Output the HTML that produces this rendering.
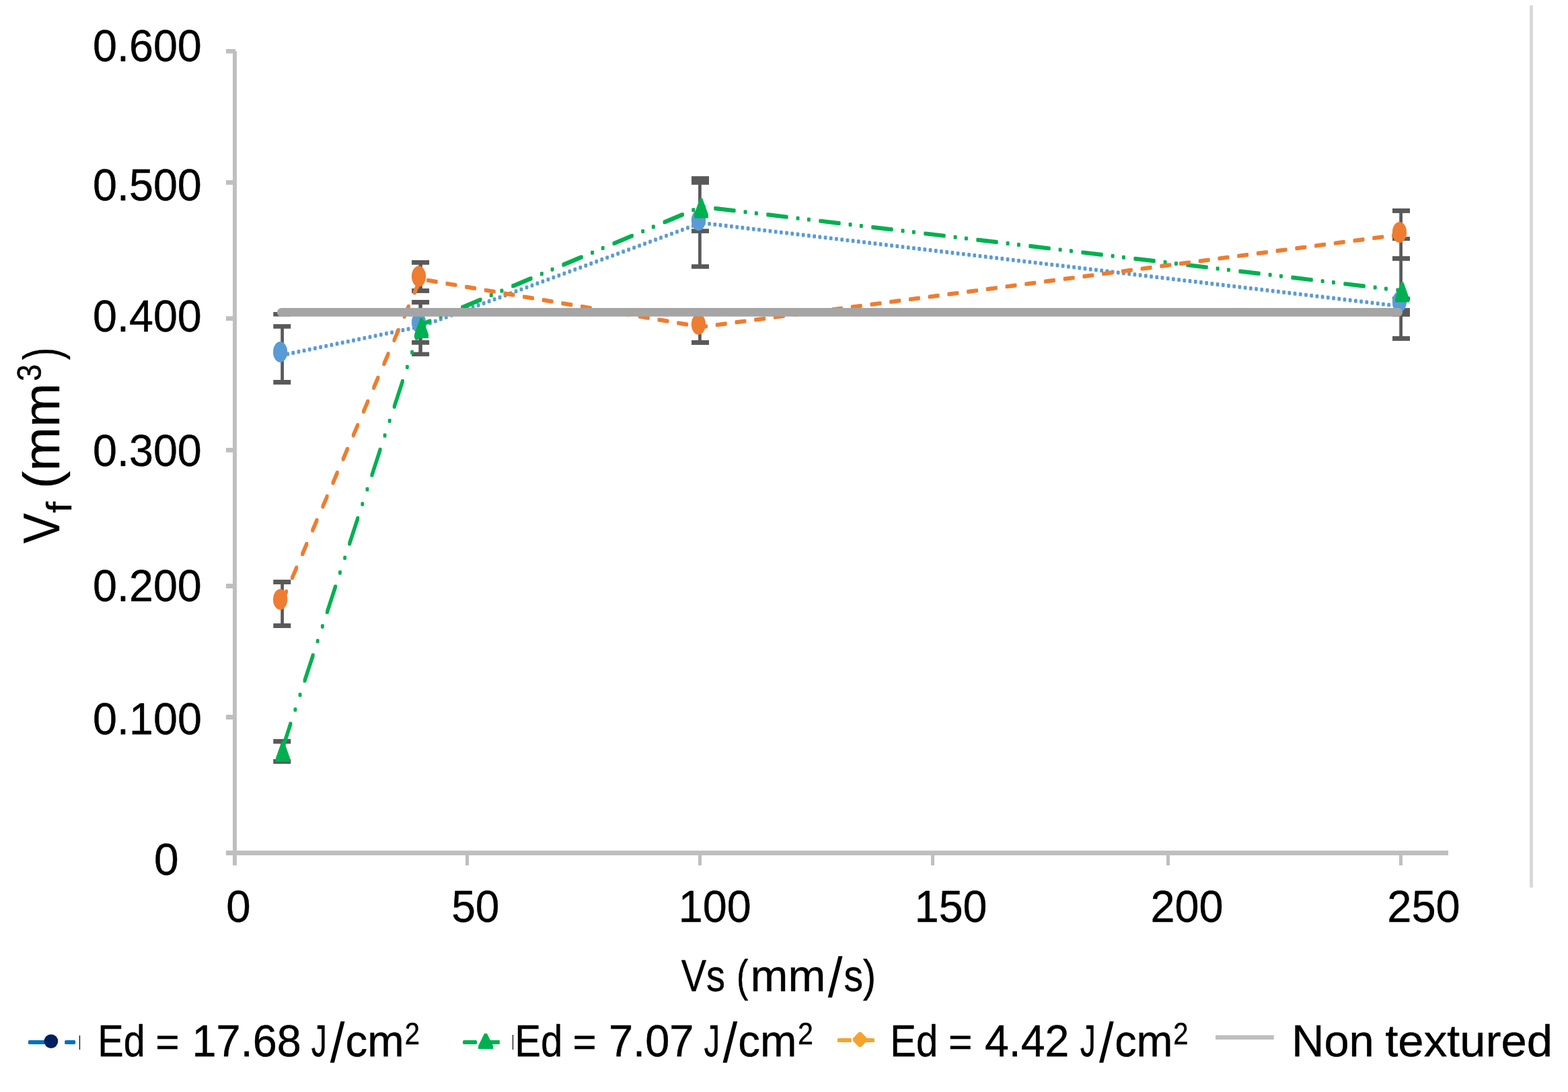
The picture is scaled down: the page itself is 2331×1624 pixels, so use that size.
<!DOCTYPE html>
<html lang="en">
<head>
<meta charset="utf-8">
<title>Vf (mm3) versus Vs (mm/s)</title>
<style>
html,body{margin:0;padding:0;background:#fff;}
body{width:2331px;height:1624px;overflow:hidden;}
svg{display:block;font-family:"Liberation Sans",sans-serif;font-kerning:none;fill:#000;}
svg text{white-space:pre;stroke:#000;stroke-width:0.45px;stroke-linejoin:round;}
</style>
</head>
<body>
<svg width="2331" height="1624" viewBox="0 0 2331 1624">
<rect x="0" y="0" width="2331" height="1624" fill="#ffffff"/>
<rect x="2274.00" y="8.00" width="5.00" height="1312.00" fill="#d9d9d9"/>
<rect x="346.00" y="76.00" width="6.00" height="1211.00" fill="#bfbfbf"/>
<rect x="336.00" y="1265.00" width="1817.00" height="7.00" fill="#bfbfbf"/>
<rect x="336.00" y="73.00" width="14.00" height="3.50" fill="#bfbfbf"/>
<rect x="336.00" y="73.00" width="11.00" height="6.50" fill="#bfbfbf"/>
<rect x="336.00" y="268.00" width="11.00" height="6.75" fill="#bfbfbf"/>
<rect x="336.00" y="470.25" width="11.00" height="6.75" fill="#bfbfbf"/>
<rect x="336.00" y="666.00" width="11.00" height="6.75" fill="#bfbfbf"/>
<rect x="336.00" y="868.00" width="11.00" height="7.00" fill="#bfbfbf"/>
<rect x="336.00" y="1063.00" width="11.00" height="7.00" fill="#bfbfbf"/>
<rect x="692.00" y="1271.00" width="5.00" height="16.00" fill="#bfbfbf"/>
<rect x="1038.00" y="1271.00" width="5.00" height="16.00" fill="#bfbfbf"/>
<rect x="1384.00" y="1271.00" width="5.00" height="16.00" fill="#bfbfbf"/>
<rect x="1734.00" y="1271.00" width="5.00" height="16.00" fill="#bfbfbf"/>
<rect x="2080.00" y="1271.00" width="5.00" height="16.00" fill="#bfbfbf"/>
<text ><tspan x="138.08" y="91.25" font-size="66.60" textLength="161.75" lengthAdjust="spacingAndGlyphs">0.600</tspan></text>
<text ><tspan x="138.08" y="298.35" font-size="66.52" textLength="161.75" lengthAdjust="spacingAndGlyphs">0.500</tspan></text>
<text ><tspan x="138.08" y="493.10" font-size="66.17" textLength="161.75" lengthAdjust="spacingAndGlyphs">0.400</tspan></text>
<text ><tspan x="138.08" y="693.10" font-size="66.17" textLength="161.75" lengthAdjust="spacingAndGlyphs">0.300</tspan></text>
<text ><tspan x="138.08" y="894.35" font-size="66.52" textLength="161.75" lengthAdjust="spacingAndGlyphs">0.200</tspan></text>
<text ><tspan x="138.08" y="1092.35" font-size="66.38" textLength="161.75" lengthAdjust="spacingAndGlyphs">0.100</tspan></text>
<text ><tspan x="229.03" y="1301.35" font-size="66.38" textLength="36.65" lengthAdjust="spacingAndGlyphs">0</tspan></text>
<text ><tspan x="336.20" y="1371.25" font-size="66.60" textLength="36.36" lengthAdjust="spacingAndGlyphs">0</tspan></text>
<text ><tspan x="671.18" y="1371.25" font-size="66.60" textLength="71.32" lengthAdjust="spacingAndGlyphs">50</tspan></text>
<text ><tspan x="1008.83" y="1371.25" font-size="66.60" textLength="107.80" lengthAdjust="spacingAndGlyphs">100</tspan></text>
<text ><tspan x="1359.83" y="1371.25" font-size="66.60" textLength="107.69" lengthAdjust="spacingAndGlyphs">150</tspan></text>
<text ><tspan x="1710.49" y="1371.25" font-size="66.60" textLength="108.04" lengthAdjust="spacingAndGlyphs">200</tspan></text>
<text ><tspan x="2062.34" y="1371.25" font-size="66.60" textLength="108.30" lengthAdjust="spacingAndGlyphs">250</tspan></text>
<text><tspan x="1012.65" y="1473.90" font-size="66.40" textLength="65.27" lengthAdjust="spacingAndGlyphs">Vs</tspan> <tspan x="1094.97" y="1473.90" font-size="66.40" textLength="17.33" lengthAdjust="spacingAndGlyphs">(</tspan><tspan x="1115.54" y="1473.90" font-size="66.40" textLength="111.78" lengthAdjust="spacingAndGlyphs">mm</tspan><tspan stroke="none" x="1230.67" y="1482.93" font-size="84.22" textLength="21.76" lengthAdjust="spacingAndGlyphs">/</tspan><tspan x="1254.41" y="1473.90" font-size="66.40" textLength="47.64" lengthAdjust="spacingAndGlyphs">s)</tspan></text>
<text transform="rotate(-90)"><tspan x="-808.04" y="88.10" font-size="75.90" textLength="44.59" lengthAdjust="spacingAndGlyphs">V</tspan><tspan x="-762.75" y="106.00" font-size="51.50" textLength="16.66" lengthAdjust="spacingAndGlyphs">f</tspan> <tspan x="-726.77" y="88.10" font-size="75.90" textLength="156.94" lengthAdjust="spacingAndGlyphs">(mm</tspan><tspan x="-566.71" y="61.40" font-size="49.40" textLength="24.93" lengthAdjust="spacingAndGlyphs">3</tspan><tspan x="-535.33" y="88.10" font-size="75.90" textLength="18.53" lengthAdjust="spacingAndGlyphs">)</tspan></text>
<rect x="417.25" y="485.00" width="4.70" height="83.00" fill="#595959"/>
<rect x="406.30" y="482.10" width="26.00" height="6.65" fill="#595959"/>
<rect x="406.30" y="565.00" width="26.00" height="6.90" fill="#595959"/>
<rect x="417.25" y="865.00" width="4.70" height="66.00" fill="#595959"/>
<rect x="406.30" y="862.10" width="26.00" height="6.90" fill="#595959"/>
<rect x="406.30" y="927.10" width="26.00" height="6.90" fill="#595959"/>
<rect x="417.25" y="1102.00" width="4.70" height="31.00" fill="#595959"/>
<rect x="406.30" y="1099.10" width="26.00" height="6.90" fill="#595959"/>
<rect x="406.30" y="1129.00" width="26.00" height="6.90" fill="#595959"/>
<rect x="406.30" y="464.00" width="26.00" height="6.60" fill="#595959"/>
<rect x="622.30" y="390.00" width="5.50" height="43.00" fill="#595959"/>
<rect x="612.10" y="386.90" width="26.00" height="6.85" fill="#595959"/>
<rect x="612.10" y="429.00" width="26.00" height="6.90" fill="#595959"/>
<rect x="622.30" y="449.00" width="5.50" height="78.00" fill="#595959"/>
<rect x="612.10" y="446.00" width="26.00" height="6.90" fill="#595959"/>
<rect x="612.10" y="506.00" width="26.00" height="6.75" fill="#595959"/>
<rect x="612.10" y="523.60" width="26.00" height="6.30" fill="#595959"/>
<rect x="1038.05" y="265.00" width="4.70" height="132.00" fill="#595959"/>
<rect x="1028.00" y="262.10" width="26.00" height="12.65" fill="#595959"/>
<rect x="1028.00" y="340.25" width="26.00" height="6.65" fill="#595959"/>
<rect x="1028.00" y="393.10" width="26.00" height="6.65" fill="#595959"/>
<rect x="1038.05" y="460.00" width="4.70" height="50.00" fill="#595959"/>
<rect x="1028.00" y="506.00" width="26.00" height="6.90" fill="#595959"/>
<rect x="2080.25" y="313.00" width="4.70" height="191.00" fill="#595959"/>
<rect x="2070.00" y="310.00" width="26.00" height="6.90" fill="#595959"/>
<rect x="2070.00" y="352.10" width="26.00" height="6.00" fill="#595959"/>
<rect x="2070.00" y="381.00" width="26.00" height="6.90" fill="#595959"/>
<rect x="2070.00" y="441.25" width="26.00" height="6.25" fill="#595959"/>
<rect x="2070.00" y="458.10" width="26.00" height="12.80" fill="#595959"/>
<rect x="2070.00" y="500.00" width="26.00" height="6.90" fill="#595959"/>
<path d="M426.64 524.88L426.69 524.87L428.59 524.87L428.59 527.97L428.54 527.98L426.64 527.98ZM434.8 523.2L434.85 523.19L436.75 523.19L436.75 526.29L436.7 526.3L434.8 526.3ZM442.96 521.51L443.01 521.5L444.91 521.5L444.91 524.6L444.86 524.61L442.96 524.61ZM451.11 519.82L451.16 519.81L453.06 519.81L453.06 522.91L453.01 522.92L451.11 522.92ZM459.27 518.14L459.32 518.13L461.22 518.13L461.22 521.23L461.17 521.24L459.27 521.24ZM467.43 516.45L467.47 516.44L469.37 516.44L469.37 519.54L469.33 519.55L467.43 519.55ZM475.58 514.76L475.63 514.75L477.53 514.75L477.53 517.85L477.48 517.86L475.58 517.86ZM483.74 513.08L483.79 513.07L485.69 513.07L485.69 516.17L485.64 516.18L483.74 516.18ZM491.89 511.39L491.94 511.38L493.84 511.38L493.84 514.48L493.79 514.49L491.89 514.49ZM500.05 509.7L500.1 509.69L502 509.69L502 512.79L501.95 512.8L500.05 512.8ZM508.21 508.02L508.26 508.01L510.16 508.01L510.16 511.11L510.11 511.12L508.21 511.12ZM516.36 506.33L516.41 506.32L518.31 506.32L518.31 509.42L518.26 509.43L516.36 509.43ZM524.52 504.64L524.57 504.63L526.47 504.63L526.47 507.73L526.42 507.74L524.52 507.74ZM532.68 502.96L532.73 502.95L534.63 502.95L534.63 506.05L534.58 506.06L532.68 506.06ZM540.83 501.27L540.88 501.26L542.78 501.26L542.78 504.36L542.73 504.37L540.83 504.37ZM548.99 499.58L549.04 499.57L550.94 499.57L550.94 502.67L550.89 502.68L548.99 502.68ZM557.14 497.9L557.19 497.89L559.09 497.89L559.09 500.99L559.04 501L557.14 501ZM565.3 496.21L565.35 496.2L567.25 496.2L567.25 499.3L567.2 499.31L565.3 499.31ZM573.46 494.52L573.51 494.51L575.41 494.51L575.41 497.61L575.36 497.62L573.46 497.62ZM581.61 492.84L581.66 492.83L583.56 492.83L583.56 495.93L583.51 495.94L581.61 495.94ZM589.77 491.15L589.82 491.14L591.72 491.14L591.72 494.24L591.67 494.25L589.77 494.25ZM597.93 489.46L597.98 489.45L599.88 489.45L599.88 492.55L599.83 492.56L597.93 492.56ZM606.08 487.78L606.13 487.77L608.03 487.77L608.03 490.87L607.98 490.88L606.08 490.88ZM614.24 486.09L614.29 486.08L616.19 486.08L616.19 489.18L616.14 489.19L614.24 489.19ZM622.4 484.4L622.44 484.39L624.34 484.39L624.34 487.49L624.3 487.5L622.4 487.5ZM630.36 481.97L630.4 481.95L632.3 481.95L632.3 485.05L632.26 485.07L630.36 485.07ZM638.34 479.02L638.39 479L640.29 479L640.29 482.1L640.24 482.12L638.34 482.12ZM646.32 476.07L646.37 476.05L648.27 476.05L648.27 479.15L648.22 479.17L646.32 479.17ZM654.3 473.11L654.35 473.09L656.25 473.09L656.25 476.19L656.2 476.21L654.3 476.21ZM662.28 470.16L662.33 470.14L664.23 470.14L664.23 473.24L664.18 473.26L662.28 473.26ZM670.26 467.21L670.31 467.19L672.21 467.19L672.21 470.29L672.16 470.31L670.26 470.31ZM678.24 464.25L678.29 464.23L680.19 464.23L680.19 467.33L680.14 467.35L678.24 467.35ZM686.22 461.3L686.27 461.28L688.17 461.28L688.17 464.38L688.12 464.4L686.22 464.4ZM694.2 458.35L694.25 458.33L696.15 458.33L696.15 461.43L696.1 461.45L694.2 461.45ZM702.18 455.39L702.23 455.38L704.13 455.38L704.13 458.48L704.08 458.49L702.18 458.49ZM710.16 452.44L710.21 452.42L712.11 452.42L712.11 455.52L712.06 455.54L710.16 455.54ZM718.14 449.49L718.19 449.47L720.09 449.47L720.09 452.57L720.04 452.59L718.14 452.59ZM726.12 446.53L726.17 446.52L728.07 446.52L728.07 449.62L728.02 449.63L726.12 449.63ZM734.11 443.58L734.15 443.56L736.05 443.56L736.05 446.66L736.01 446.68L734.11 446.68ZM742.09 440.63L742.13 440.61L744.03 440.61L744.03 443.71L743.99 443.73L742.09 443.73ZM750.07 437.67L750.11 437.66L752.01 437.66L752.01 440.76L751.97 440.77L750.07 440.77ZM758.05 434.72L758.1 434.7L760 434.7L760 437.8L759.95 437.82L758.05 437.82ZM766.03 431.77L766.08 431.75L767.98 431.75L767.98 434.85L767.93 434.87L766.03 434.87ZM774.01 428.81L774.06 428.8L775.96 428.8L775.96 431.9L775.91 431.91L774.01 431.91ZM781.99 425.86L782.04 425.84L783.94 425.84L783.94 428.94L783.89 428.96L781.99 428.96ZM789.97 422.91L790.02 422.89L791.92 422.89L791.92 425.99L791.87 426.01L789.97 426.01ZM797.95 419.95L798 419.94L799.9 419.94L799.9 423.04L799.85 423.05L797.95 423.05ZM805.93 417L805.98 416.98L807.88 416.98L807.88 420.08L807.83 420.1L805.93 420.1ZM813.91 414.05L813.96 414.03L815.86 414.03L815.86 417.13L815.81 417.15L813.91 417.15ZM821.89 411.1L821.94 411.08L823.84 411.08L823.84 414.18L823.79 414.2L821.89 414.2ZM829.87 408.14L829.92 408.12L831.82 408.12L831.82 411.22L831.77 411.24L829.87 411.24ZM837.85 405.19L837.9 405.17L839.8 405.17L839.8 408.27L839.75 408.29L837.85 408.29ZM845.84 402.24L845.88 402.22L847.78 402.22L847.78 405.32L847.74 405.34L845.84 405.34ZM853.82 399.28L853.86 399.26L855.76 399.26L855.76 402.36L855.72 402.38L853.82 402.38ZM861.8 396.33L861.84 396.31L863.74 396.31L863.74 399.41L863.7 399.43L861.8 399.43ZM869.78 393.38L869.83 393.36L871.73 393.36L871.73 396.46L871.68 396.48L869.78 396.48ZM877.76 390.42L877.81 390.4L879.71 390.4L879.71 393.5L879.66 393.52L877.76 393.52ZM885.74 387.47L885.79 387.45L887.69 387.45L887.69 390.55L887.64 390.57L885.74 390.57ZM893.72 384.52L893.77 384.5L895.67 384.5L895.67 387.6L895.62 387.62L893.72 387.62ZM901.7 381.56L901.75 381.55L903.65 381.55L903.65 384.65L903.6 384.66L901.7 384.66ZM909.68 378.61L909.73 378.59L911.63 378.59L911.63 381.69L911.58 381.71L909.68 381.71ZM917.66 375.66L917.71 375.64L919.61 375.64L919.61 378.74L919.56 378.76L917.66 378.76ZM925.64 372.7L925.69 372.69L927.59 372.69L927.59 375.79L927.54 375.8L925.64 375.8ZM933.62 369.75L933.67 369.73L935.57 369.73L935.57 372.83L935.52 372.85L933.62 372.85ZM941.6 366.8L941.65 366.78L943.55 366.78L943.55 369.88L943.5 369.9L941.6 369.9ZM949.58 363.84L949.63 363.83L951.53 363.83L951.53 366.93L951.48 366.94L949.58 366.94ZM957.56 360.89L957.61 360.87L959.51 360.87L959.51 363.97L959.46 363.99L957.56 363.99ZM965.55 357.94L965.59 357.92L967.49 357.92L967.49 361.02L967.45 361.04L965.55 361.04ZM973.53 354.98L973.57 354.97L975.47 354.97L975.47 358.07L975.43 358.08L973.53 358.08ZM981.51 352.03L981.56 352.01L983.46 352.01L983.46 355.11L983.41 355.13L981.51 355.13ZM989.49 349.08L989.54 349.06L991.44 349.06L991.44 352.16L991.39 352.18L989.49 352.18ZM997.47 346.12L997.52 346.11L999.42 346.11L999.42 349.21L999.37 349.22L997.47 349.22ZM1005.45 343.17L1005.5 343.15L1007.4 343.15L1007.4 346.25L1007.35 346.27L1005.45 346.27ZM1013.43 340.22L1013.48 340.2L1015.38 340.2L1015.38 343.3L1015.33 343.32L1013.43 343.32ZM1021.41 337.27L1021.46 337.25L1023.36 337.25L1023.36 340.35L1023.31 340.37L1021.41 340.37ZM1029.39 334.31L1029.44 334.29L1031.34 334.29L1031.34 337.39L1031.29 337.41L1029.39 337.41ZM1037.37 331.36L1037.42 331.34L1039.32 331.34L1039.32 334.44L1039.27 334.46L1037.37 334.46ZM1045.39 330.32L1047.29 330.32L1047.34 330.33L1047.34 333.43L1045.44 333.43L1045.39 333.42ZM1053.6 331.3L1055.5 331.3L1055.55 331.31L1055.55 334.41L1053.65 334.41L1053.6 334.4ZM1061.81 332.28L1063.76 332.28L1063.76 335.38L1061.81 335.38ZM1070.02 333.26L1071.97 333.26L1071.97 336.36L1070.02 336.36ZM1078.24 334.24L1080.19 334.24L1080.19 337.34L1078.24 337.34ZM1086.45 335.22L1088.4 335.22L1088.4 338.32L1086.45 338.32ZM1094.66 336.2L1096.61 336.2L1096.61 339.3L1094.66 339.3ZM1102.87 337.18L1104.82 337.18L1104.82 340.28L1102.87 340.28ZM1111.08 338.16L1113.03 338.16L1113.03 341.26L1111.08 341.26ZM1119.3 339.14L1121.24 339.14L1121.24 342.24L1119.3 342.24ZM1127.51 340.11L1129.41 340.11L1129.46 340.12L1129.46 343.22L1127.56 343.22L1127.51 343.21ZM1135.72 341.09L1137.62 341.09L1137.67 341.1L1137.67 344.2L1135.77 344.2L1135.72 344.19ZM1143.93 342.07L1145.83 342.07L1145.88 342.08L1145.88 345.18L1143.98 345.18L1143.93 345.17ZM1152.14 343.05L1154.04 343.05L1154.09 343.06L1154.09 346.16L1152.19 346.16L1152.14 346.15ZM1160.35 344.03L1162.25 344.03L1162.3 344.04L1162.3 347.14L1160.4 347.14L1160.35 347.13ZM1168.57 345.01L1170.47 345.01L1170.52 345.02L1170.52 348.12L1168.62 348.12L1168.57 348.11ZM1176.78 345.99L1178.68 345.99L1178.73 346L1178.73 349.1L1176.83 349.1L1176.78 349.09ZM1184.99 346.97L1186.89 346.97L1186.94 346.98L1186.94 350.08L1185.04 350.08L1184.99 350.07ZM1193.2 347.95L1195.1 347.95L1195.15 347.96L1195.15 351.06L1193.25 351.06L1193.2 351.05ZM1201.41 348.93L1203.31 348.93L1203.36 348.94L1203.36 352.04L1201.46 352.04L1201.41 352.03ZM1209.63 349.91L1211.53 349.91L1211.58 349.92L1211.58 353.02L1209.68 353.02L1209.63 353.01ZM1217.84 350.89L1219.74 350.89L1219.79 350.9L1219.79 354L1217.89 354L1217.84 353.99ZM1226.05 351.87L1228 351.87L1228 354.97L1226.05 354.97ZM1234.26 352.85L1236.21 352.85L1236.21 355.95L1234.26 355.95ZM1242.47 353.83L1244.42 353.83L1244.42 356.93L1242.47 356.93ZM1250.69 354.81L1252.63 354.81L1252.63 357.91L1250.69 357.91ZM1258.9 355.79L1260.85 355.79L1260.85 358.89L1258.9 358.89ZM1267.11 356.77L1269.06 356.77L1269.06 359.87L1267.11 359.87ZM1275.32 357.75L1277.27 357.75L1277.27 360.85L1275.32 360.85ZM1283.53 358.73L1285.48 358.73L1285.48 361.83L1283.53 361.83ZM1291.74 359.7L1293.64 359.7L1293.69 359.71L1293.69 362.81L1291.79 362.81L1291.74 362.8ZM1299.96 360.68L1301.86 360.68L1301.91 360.69L1301.91 363.79L1300.01 363.79L1299.96 363.78ZM1308.17 361.66L1310.07 361.66L1310.12 361.67L1310.12 364.77L1308.22 364.77L1308.17 364.76ZM1316.38 362.64L1318.28 362.64L1318.33 362.65L1318.33 365.75L1316.43 365.75L1316.38 365.74ZM1324.59 363.62L1326.49 363.62L1326.54 363.63L1326.54 366.73L1324.64 366.73L1324.59 366.72ZM1332.8 364.6L1334.7 364.6L1334.75 364.61L1334.75 367.71L1332.85 367.71L1332.8 367.7ZM1341.02 365.58L1342.92 365.58L1342.97 365.59L1342.97 368.69L1341.07 368.69L1341.02 368.68ZM1349.23 366.56L1351.13 366.56L1351.18 366.57L1351.18 369.67L1349.28 369.67L1349.23 369.66ZM1357.44 367.54L1359.34 367.54L1359.39 367.55L1359.39 370.65L1357.49 370.65L1357.44 370.64ZM1365.65 368.52L1367.55 368.52L1367.6 368.53L1367.6 371.63L1365.7 371.63L1365.65 371.62ZM1373.86 369.5L1375.76 369.5L1375.81 369.51L1375.81 372.61L1373.91 372.61L1373.86 372.6ZM1382.08 370.48L1383.98 370.48L1384.02 370.49L1384.02 373.59L1382.12 373.59L1382.08 373.58ZM1390.29 371.46L1392.24 371.46L1392.24 374.56L1390.29 374.56ZM1398.5 372.44L1400.45 372.44L1400.45 375.54L1398.5 375.54ZM1406.71 373.42L1408.66 373.42L1408.66 376.52L1406.71 376.52ZM1414.92 374.4L1416.87 374.4L1416.87 377.5L1414.92 377.5ZM1423.13 375.38L1425.08 375.38L1425.08 378.48L1423.13 378.48ZM1431.35 376.36L1433.3 376.36L1433.3 379.46L1431.35 379.46ZM1439.56 377.34L1441.51 377.34L1441.51 380.44L1439.56 380.44ZM1447.77 378.32L1449.72 378.32L1449.72 381.42L1447.77 381.42ZM1455.98 379.29L1457.88 379.29L1457.93 379.3L1457.93 382.4L1456.03 382.4L1455.98 382.39ZM1464.19 380.27L1466.09 380.27L1466.14 380.28L1466.14 383.38L1464.24 383.38L1464.19 383.37ZM1472.41 381.25L1474.31 381.25L1474.36 381.26L1474.36 384.36L1472.46 384.36L1472.41 384.35ZM1480.62 382.23L1482.52 382.23L1482.57 382.24L1482.57 385.34L1480.67 385.34L1480.62 385.33ZM1488.83 383.21L1490.73 383.21L1490.78 383.22L1490.78 386.32L1488.88 386.32L1488.83 386.31ZM1497.04 384.19L1498.94 384.19L1498.99 384.2L1498.99 387.3L1497.09 387.3L1497.04 387.29ZM1505.25 385.17L1507.15 385.17L1507.2 385.18L1507.2 388.28L1505.3 388.28L1505.25 388.27ZM1513.47 386.15L1515.37 386.15L1515.41 386.16L1515.41 389.26L1513.51 389.26L1513.47 389.25ZM1521.68 387.13L1523.58 387.13L1523.63 387.14L1523.63 390.24L1521.73 390.24L1521.68 390.23ZM1529.89 388.11L1531.79 388.11L1531.84 388.12L1531.84 391.22L1529.94 391.22L1529.89 391.21ZM1538.1 389.09L1540 389.09L1540.05 389.1L1540.05 392.2L1538.15 392.2L1538.1 392.19ZM1546.31 390.07L1548.21 390.07L1548.26 390.08L1548.26 393.18L1546.36 393.18L1546.31 393.17ZM1554.52 391.05L1556.47 391.05L1556.47 394.15L1554.52 394.15ZM1562.74 392.03L1564.69 392.03L1564.69 395.13L1562.74 395.13ZM1570.95 393.01L1572.9 393.01L1572.9 396.11L1570.95 396.11ZM1579.16 393.99L1581.11 393.99L1581.11 397.09L1579.16 397.09ZM1587.37 394.97L1589.32 394.97L1589.32 398.07L1587.37 398.07ZM1595.58 395.95L1597.53 395.95L1597.53 399.05L1595.58 399.05ZM1603.8 396.93L1605.75 396.93L1605.75 400.03L1603.8 400.03ZM1612.01 397.91L1613.96 397.91L1613.96 401.01L1612.01 401.01ZM1620.22 398.88L1622.12 398.88L1622.17 398.89L1622.17 401.99L1620.27 401.99L1620.22 401.98ZM1628.43 399.86L1630.33 399.86L1630.38 399.87L1630.38 402.97L1628.48 402.97L1628.43 402.96ZM1636.64 400.84L1638.54 400.84L1638.59 400.85L1638.59 403.95L1636.69 403.95L1636.64 403.94ZM1644.86 401.82L1646.76 401.82L1646.8 401.83L1646.8 404.93L1644.9 404.93L1644.86 404.92ZM1653.07 402.8L1654.97 402.8L1655.02 402.81L1655.02 405.91L1653.12 405.91L1653.07 405.9ZM1661.28 403.78L1663.18 403.78L1663.23 403.79L1663.23 406.89L1661.33 406.89L1661.28 406.88ZM1669.49 404.76L1671.39 404.76L1671.44 404.77L1671.44 407.87L1669.54 407.87L1669.49 407.86ZM1677.7 405.74L1679.6 405.74L1679.65 405.75L1679.65 408.85L1677.75 408.85L1677.7 408.84ZM1685.91 406.72L1687.81 406.72L1687.86 406.73L1687.86 409.83L1685.96 409.83L1685.91 409.82ZM1694.13 407.7L1696.03 407.7L1696.08 407.71L1696.08 410.81L1694.18 410.81L1694.13 410.8ZM1702.34 408.68L1704.24 408.68L1704.29 408.69L1704.29 411.79L1702.39 411.79L1702.34 411.78ZM1710.55 409.66L1712.45 409.66L1712.5 409.67L1712.5 412.77L1710.6 412.77L1710.55 412.76ZM1718.76 410.64L1720.71 410.64L1720.71 413.74L1718.76 413.74ZM1726.97 411.62L1728.92 411.62L1728.92 414.72L1726.97 414.72ZM1735.19 412.6L1737.14 412.6L1737.14 415.7L1735.19 415.7ZM1743.4 413.58L1745.35 413.58L1745.35 416.68L1743.4 416.68ZM1751.61 414.56L1753.56 414.56L1753.56 417.66L1751.61 417.66ZM1759.82 415.54L1761.77 415.54L1761.77 418.64L1759.82 418.64ZM1768.03 416.52L1769.98 416.52L1769.98 419.62L1768.03 419.62ZM1776.25 417.5L1778.19 417.5L1778.19 420.6L1776.25 420.6ZM1784.46 418.47L1786.36 418.47L1786.41 418.48L1786.41 421.58L1784.51 421.58L1784.46 421.57ZM1792.67 419.45L1794.57 419.45L1794.62 419.46L1794.62 422.56L1792.72 422.56L1792.67 422.55ZM1800.88 420.43L1802.78 420.43L1802.83 420.44L1802.83 423.54L1800.93 423.54L1800.88 423.53ZM1809.09 421.41L1810.99 421.41L1811.04 421.42L1811.04 424.52L1809.14 424.52L1809.09 424.51ZM1817.3 422.39L1819.2 422.39L1819.25 422.4L1819.25 425.5L1817.35 425.5L1817.3 425.49ZM1825.52 423.37L1827.42 423.37L1827.47 423.38L1827.47 426.48L1825.57 426.48L1825.52 426.47ZM1833.73 424.35L1835.63 424.35L1835.68 424.36L1835.68 427.46L1833.78 427.46L1833.73 427.45ZM1841.94 425.33L1843.84 425.33L1843.89 425.34L1843.89 428.44L1841.99 428.44L1841.94 428.43ZM1850.15 426.31L1852.05 426.31L1852.1 426.32L1852.1 429.42L1850.2 429.42L1850.15 429.41ZM1858.36 427.29L1860.26 427.29L1860.31 427.3L1860.31 430.4L1858.41 430.4L1858.36 430.39ZM1866.58 428.27L1868.48 428.27L1868.53 428.28L1868.53 431.38L1866.63 431.38L1866.58 431.37ZM1874.79 429.25L1876.69 429.25L1876.74 429.26L1876.74 432.36L1874.84 432.36L1874.79 432.35ZM1883 430.23L1884.95 430.23L1884.95 433.33L1883 433.33ZM1891.21 431.21L1893.16 431.21L1893.16 434.31L1891.21 434.31ZM1899.42 432.19L1901.37 432.19L1901.37 435.29L1899.42 435.29ZM1907.64 433.17L1909.58 433.17L1909.58 436.27L1907.64 436.27ZM1915.85 434.15L1917.8 434.15L1917.8 437.25L1915.85 437.25ZM1924.06 435.13L1926.01 435.13L1926.01 438.23L1924.06 438.23ZM1932.27 436.11L1934.22 436.11L1934.22 439.21L1932.27 439.21ZM1940.48 437.09L1942.43 437.09L1942.43 440.19L1940.48 440.19ZM1948.69 438.06L1950.59 438.06L1950.64 438.07L1950.64 441.17L1948.74 441.17L1948.69 441.16ZM1956.91 439.04L1958.81 439.04L1958.86 439.05L1958.86 442.15L1956.96 442.15L1956.91 442.14ZM1965.12 440.02L1967.02 440.02L1967.07 440.03L1967.07 443.13L1965.17 443.13L1965.12 443.12ZM1973.33 441L1975.23 441L1975.28 441.01L1975.28 444.11L1973.38 444.11L1973.33 444.1ZM1981.54 441.98L1983.44 441.98L1983.49 441.99L1983.49 445.09L1981.59 445.09L1981.54 445.08ZM1989.75 442.96L1991.65 442.96L1991.7 442.97L1991.7 446.07L1989.8 446.07L1989.75 446.06ZM1997.97 443.94L1999.87 443.94L1999.92 443.95L1999.92 447.05L1998.02 447.05L1997.97 447.04ZM2006.18 444.92L2008.08 444.92L2008.13 444.93L2008.13 448.03L2006.23 448.03L2006.18 448.02ZM2014.39 445.9L2016.29 445.9L2016.34 445.91L2016.34 449.01L2014.44 449.01L2014.39 449ZM2022.6 446.88L2024.5 446.88L2024.55 446.89L2024.55 449.99L2022.65 449.99L2022.6 449.98ZM2030.81 447.86L2032.71 447.86L2032.76 447.87L2032.76 450.97L2030.86 450.97L2030.81 450.96ZM2039.03 448.84L2040.93 448.84L2040.98 448.85L2040.98 451.95L2039.08 451.95L2039.03 451.94ZM2047.24 449.82L2049.19 449.82L2049.19 452.92L2047.24 452.92ZM2055.45 450.8L2057.4 450.8L2057.4 453.9L2055.45 453.9ZM2063.66 451.78L2065.61 451.78L2065.61 454.88L2063.66 454.88ZM2071.87 452.76L2073.82 452.76L2073.82 455.86L2071.87 455.86ZM2080.08 453.74L2082.03 453.74L2082.03 456.84L2080.08 456.84Z" fill="#5b9bd5" stroke="#5b9bd5" stroke-width="2.8" stroke-linejoin="round"/>
<ellipse cx="416.60" cy="523.40" rx="10.60" ry="15.50" fill="#5b9bd5"/>
<ellipse cx="622.50" cy="479.50" rx="10.60" ry="15.50" fill="#5b9bd5"/>
<ellipse cx="1038.40" cy="327.60" rx="10.60" ry="15.50" fill="#5b9bd5"/>
<ellipse cx="2080.50" cy="448.60" rx="10.60" ry="15.50" fill="#5b9bd5"/>
<path d="M418.71 1112.64L431.08 1074.79L432.98 1074.79L432.98 1077.89L420.61 1115.74L418.71 1115.74ZM437.89 1053.94L438.02 1053.55L439.92 1053.55L439.92 1056.65L439.79 1057.04L437.89 1057.04ZM445.05 1032.05L445.17 1031.66L447.07 1031.66L447.07 1034.76L446.95 1035.15L445.05 1035.15ZM452.01 1010.75L464.38 972.89L466.28 972.89L466.28 975.99L453.91 1013.85L452.01 1013.85ZM471.19 952.05L471.31 951.66L473.21 951.66L473.21 954.76L473.09 955.15L471.19 955.15ZM478.34 930.16L478.47 929.77L480.37 929.77L480.37 932.87L480.24 933.26L478.34 933.26ZM485.3 908.85L497.67 871L499.57 871L499.57 874.1L487.2 911.95L485.3 911.95ZM504.48 850.15L504.61 849.76L506.51 849.76L506.51 852.86L506.38 853.25L504.48 853.25ZM511.63 828.26L511.76 827.87L513.66 827.87L513.66 830.97L513.53 831.36L511.63 831.36ZM518.59 806.96L530.96 769.11L532.86 769.11L532.86 772.21L520.49 810.06L518.59 810.06ZM537.77 748.26L537.9 747.87L539.8 747.87L539.8 750.97L539.67 751.36L537.77 751.36ZM544.92 726.37L545.05 725.98L546.95 725.98L546.95 729.08L546.82 729.47L544.92 729.47ZM551.89 705.07L564.25 667.22L566.15 667.22L566.15 670.32L553.79 708.17L551.89 708.17ZM571.06 646.37L571.19 645.98L573.09 645.98L573.09 649.08L572.96 649.47L571.06 649.47ZM578.22 624.48L578.34 624.09L580.24 624.09L580.24 627.19L580.12 627.58L578.22 627.58ZM585.18 603.17L597.55 565.32L599.45 565.32L599.45 568.42L587.08 606.27L585.18 606.27ZM604.36 544.48L604.48 544.08L606.38 544.08L606.38 547.18L606.26 547.58L604.36 547.58ZM611.51 522.58L611.64 522.19L613.54 522.19L613.54 525.29L613.41 525.68L611.51 525.68ZM618.47 501.28L624.95 481.45L626.85 481.45L626.85 484.55L620.37 504.38L618.47 504.38ZM624.95 481.45L638.05 475.93L639.95 475.93L639.95 479.03L626.85 484.55L624.95 484.55ZM654.03 469.19L654.32 469.07L656.22 469.07L656.22 472.17L655.93 472.29L654.03 472.29ZM669.72 462.57L670.01 462.45L671.91 462.45L671.91 465.55L671.62 465.67L669.72 465.67ZM686.5 455.5L713.18 444.25L715.08 444.25L715.08 447.35L688.4 458.6L686.5 458.6ZM729.15 437.52L729.44 437.4L731.34 437.4L731.34 440.5L731.05 440.62L729.15 440.62ZM744.85 430.9L745.13 430.78L747.03 430.78L747.03 433.88L746.75 434L744.85 434ZM761.62 423.83L788.3 412.58L790.2 412.58L790.2 415.68L763.52 426.93L761.62 426.93ZM804.28 405.84L804.57 405.72L806.47 405.72L806.47 408.82L806.18 408.94L804.28 408.94ZM819.97 399.23L820.26 399.11L822.16 399.11L822.16 402.21L821.87 402.33L819.97 402.33ZM836.75 392.15L863.43 380.91L865.33 380.91L865.33 384.01L838.65 395.25L836.75 395.25ZM879.41 374.17L879.69 374.05L881.59 374.05L881.59 377.15L881.31 377.27L879.41 377.27ZM895.1 367.55L895.39 367.43L897.29 367.43L897.29 370.53L897 370.65L895.1 370.65ZM911.87 360.48L938.55 349.23L940.45 349.23L940.45 352.33L913.77 363.58L911.87 363.58ZM954.53 342.49L954.82 342.37L956.72 342.37L956.72 345.47L956.43 345.59L954.53 345.59ZM970.22 335.88L970.51 335.76L972.41 335.76L972.41 338.86L972.12 338.98L970.22 338.98ZM987 328.81L1013.68 317.56L1015.58 317.56L1015.58 320.66L988.9 331.91L987 331.91ZM1029.66 310.82L1029.95 310.7L1031.85 310.7L1031.85 313.8L1031.56 313.92L1029.66 313.92ZM1045.23 306.3L1047.13 306.3L1047.43 306.34L1047.43 309.44L1045.53 309.44L1045.23 309.4ZM1062.65 308.39L1064.55 308.39L1092.25 311.71L1092.25 314.81L1090.35 314.81L1062.65 311.49ZM1106.95 313.7L1108.85 313.7L1109.15 313.74L1109.15 316.84L1107.25 316.84L1106.95 316.8ZM1123.24 315.65L1125.14 315.65L1125.44 315.69L1125.44 318.79L1123.54 318.79L1123.24 318.75ZM1140.66 317.74L1142.56 317.74L1170.26 321.06L1170.26 324.16L1168.36 324.16L1140.66 320.84ZM1184.96 323.05L1186.86 323.05L1187.16 323.09L1187.16 326.19L1185.26 326.19L1184.96 326.15ZM1201.25 325L1203.15 325L1203.45 325.04L1203.45 328.14L1201.55 328.14L1201.25 328.1ZM1218.67 327.09L1220.57 327.09L1248.27 330.41L1248.27 333.51L1246.37 333.51L1218.67 330.19ZM1262.97 332.4L1264.87 332.4L1265.17 332.44L1265.17 335.54L1263.27 335.54L1262.97 335.5ZM1279.26 334.35L1281.16 334.35L1281.46 334.39L1281.46 337.49L1279.56 337.49L1279.26 337.45ZM1296.68 336.44L1298.58 336.44L1326.28 339.76L1326.28 342.86L1324.38 342.86L1296.68 339.54ZM1340.98 341.75L1342.88 341.75L1343.18 341.79L1343.18 344.89L1341.28 344.89L1340.98 344.85ZM1357.27 343.7L1359.17 343.7L1359.47 343.74L1359.47 346.84L1357.57 346.84L1357.27 346.8ZM1374.69 345.79L1376.59 345.79L1404.3 349.11L1404.3 352.21L1402.4 352.21L1374.69 348.89ZM1418.99 351.1L1420.89 351.1L1421.19 351.14L1421.19 354.24L1419.29 354.24L1418.99 354.2ZM1435.28 353.05L1437.18 353.05L1437.48 353.09L1437.48 356.19L1435.58 356.19L1435.28 356.15ZM1452.7 355.14L1454.6 355.14L1482.31 358.46L1482.31 361.56L1480.41 361.56L1452.7 358.24ZM1497 360.45L1498.9 360.45L1499.2 360.49L1499.2 363.59L1497.3 363.59L1497 363.55ZM1513.29 362.4L1515.19 362.4L1515.49 362.44L1515.49 365.54L1513.59 365.54L1513.29 365.5ZM1530.71 364.49L1532.61 364.49L1560.32 367.81L1560.32 370.91L1558.42 370.91L1530.71 367.59ZM1575.01 369.8L1576.91 369.8L1577.21 369.84L1577.21 372.94L1575.31 372.94L1575.01 372.9ZM1591.3 371.75L1593.2 371.75L1593.5 371.79L1593.5 374.89L1591.6 374.89L1591.3 374.85ZM1608.72 373.84L1610.62 373.84L1638.33 377.16L1638.33 380.26L1636.43 380.26L1608.72 376.94ZM1653.02 379.15L1654.92 379.15L1655.22 379.18L1655.22 382.28L1653.32 382.28L1653.02 382.25ZM1669.31 381.1L1671.21 381.1L1671.51 381.14L1671.51 384.24L1669.61 384.24L1669.31 384.2ZM1686.73 383.19L1688.63 383.19L1716.34 386.51L1716.34 389.61L1714.44 389.61L1686.73 386.29ZM1731.03 388.5L1732.93 388.5L1733.23 388.53L1733.23 391.63L1731.33 391.63L1731.03 391.6ZM1747.32 390.45L1749.22 390.45L1749.52 390.49L1749.52 393.59L1747.62 393.59L1747.32 393.55ZM1764.74 392.54L1766.64 392.54L1794.35 395.86L1794.35 398.96L1792.45 398.96L1764.74 395.64ZM1809.04 397.85L1810.94 397.85L1811.24 397.88L1811.24 400.98L1809.34 400.98L1809.04 400.95ZM1825.33 399.8L1827.23 399.8L1827.53 399.84L1827.53 402.94L1825.63 402.94L1825.33 402.9ZM1842.75 401.89L1844.65 401.89L1872.36 405.21L1872.36 408.31L1870.46 408.31L1842.75 404.99ZM1887.05 407.2L1888.95 407.2L1889.25 407.23L1889.25 410.33L1887.35 410.33L1887.05 410.3ZM1903.34 409.15L1905.24 409.15L1905.54 409.19L1905.54 412.29L1903.64 412.29L1903.34 412.25ZM1920.76 411.24L1922.66 411.24L1950.37 414.56L1950.37 417.66L1948.47 417.66L1920.76 414.34ZM1965.06 416.55L1966.96 416.55L1967.26 416.58L1967.26 419.68L1965.36 419.68L1965.06 419.65ZM1981.35 418.5L1983.25 418.5L1983.55 418.54L1983.55 421.64L1981.65 421.64L1981.35 421.6ZM1998.77 420.59L2000.67 420.59L2028.38 423.91L2028.38 427.01L2026.48 427.01L1998.77 423.69ZM2043.07 425.9L2044.97 425.9L2045.27 425.93L2045.27 429.03L2043.37 429.03L2043.07 429ZM2059.36 427.85L2061.26 427.85L2061.56 427.89L2061.56 430.99L2059.66 430.99L2059.36 430.95ZM2076.78 429.94L2078.68 429.94L2085.45 430.75L2085.45 433.85L2083.55 433.85L2076.78 433.04Z" fill="#00b050" stroke="#00b050" stroke-width="2.8" stroke-linejoin="round"/>
<path d="M410 1127.15L418.6 1103L422.4 1103L431 1127.15L431 1132.75L410 1132.75Z" fill="#00b050"/>
<path d="M616 497.3L624.6 473L628.4 473L637 497.3L637 502.9L616 502.9Z" fill="#00b050"/>
<path d="M1031.9 319L1040.5 295L1044.3 295L1052.9 319L1052.9 324.6L1031.9 324.6Z" fill="#00b050"/>
<path d="M2074 444L2082.6 419.4L2086.4 419.4L2095 444L2095 449.6L2074 449.6Z" fill="#00b050"/>
<path d="M418.25 893.16L424.71 878.09L426.61 878.09L426.61 881.19L420.15 896.26L418.25 896.26ZM433.4 857.82L439.86 842.75L441.76 842.75L441.76 845.85L435.3 860.92L433.4 860.92ZM448.55 822.48L455.01 807.41L456.91 807.41L456.91 810.51L450.45 825.58L448.55 825.58ZM463.7 787.15L470.17 772.08L472.07 772.08L472.07 775.18L465.6 790.25L463.7 790.25ZM478.86 751.81L485.32 736.74L487.22 736.74L487.22 739.84L480.76 754.91L478.86 754.91ZM494.01 716.48L500.47 701.41L502.37 701.41L502.37 704.51L495.91 719.58L494.01 719.58ZM509.16 681.14L515.62 666.07L517.52 666.07L517.52 669.17L511.06 684.24L509.16 684.24ZM524.31 645.8L530.78 630.73L532.68 630.73L532.68 633.83L526.21 648.9L524.31 648.9ZM539.47 610.47L545.93 595.4L547.83 595.4L547.83 598.5L541.37 613.57L539.47 613.57ZM554.62 575.13L561.08 560.06L562.98 560.06L562.98 563.16L556.52 578.23L554.62 578.23ZM569.77 539.8L576.23 524.73L578.13 524.73L578.13 527.83L571.67 542.9L569.77 542.9ZM584.92 504.46L591.39 489.39L593.29 489.39L593.29 492.49L586.82 507.56L584.92 507.56ZM600.08 469.13L606.54 454.06L608.44 454.06L608.44 457.16L601.98 472.23L600.08 472.23ZM615.23 433.79L621.69 418.72L623.59 418.72L623.59 421.82L617.13 436.89L615.23 436.89ZM635.26 415.38L637.16 415.38L649.37 417.46L649.37 420.56L647.47 420.56L635.26 418.48ZM663.9 420.26L665.8 420.26L678.01 422.35L678.01 425.45L676.11 425.45L663.9 423.36ZM692.54 425.15L694.44 425.15L706.65 427.23L706.65 430.33L704.75 430.33L692.54 428.25ZM721.18 430.03L723.08 430.03L735.29 432.11L735.29 435.21L733.39 435.21L721.18 433.13ZM749.82 434.92L751.72 434.92L763.93 437L763.93 440.1L762.03 440.1L749.82 438.02ZM778.46 439.8L780.36 439.8L792.57 441.88L792.57 444.98L790.67 444.98L778.46 442.9ZM807.1 444.68L809 444.68L821.21 446.77L821.21 449.87L819.31 449.87L807.1 447.78ZM835.74 449.57L837.64 449.57L849.85 451.65L849.85 454.75L847.95 454.75L835.74 452.67ZM864.38 454.45L866.28 454.45L878.49 456.54L878.49 459.64L876.59 459.64L864.38 457.55ZM893.02 459.34L894.92 459.34L907.13 461.42L907.13 464.52L905.23 464.52L893.02 462.44ZM921.66 464.22L923.56 464.22L935.77 466.3L935.77 469.4L933.87 469.4L921.66 467.32ZM950.3 469.11L952.2 469.11L964.41 471.19L964.41 474.29L962.51 474.29L950.3 472.21ZM978.94 473.99L980.84 473.99L993.05 476.07L993.05 479.17L991.15 479.17L978.94 477.09ZM1007.58 478.87L1009.48 478.87L1021.69 480.96L1021.69 484.06L1019.79 484.06L1007.58 481.97ZM1036.22 483.76L1038.12 483.76L1043.35 484.65L1043.35 487.75L1041.45 487.75L1036.22 486.86ZM1041.45 484.65L1048.68 483.69L1050.58 483.69L1050.58 486.79L1043.35 487.75L1041.45 487.75ZM1065.15 481.52L1077.4 479.9L1079.3 479.9L1079.3 483L1067.05 484.62L1065.15 484.62ZM1093.87 477.72L1106.12 476.1L1108.02 476.1L1108.02 479.2L1095.77 480.82L1093.87 480.82ZM1122.59 473.93L1134.84 472.31L1136.74 472.31L1136.74 475.41L1124.49 477.03L1122.59 477.03ZM1151.31 470.13L1163.56 468.52L1165.46 468.52L1165.46 471.62L1153.21 473.23L1151.31 473.23ZM1180.03 466.34L1192.28 464.72L1194.18 464.72L1194.18 467.82L1181.93 469.44L1180.03 469.44ZM1208.75 462.54L1221 460.93L1222.9 460.93L1222.9 464.03L1210.65 465.64L1208.75 465.64ZM1237.47 458.75L1249.71 457.13L1251.61 457.13L1251.61 460.23L1239.37 461.85L1237.47 461.85ZM1266.19 454.95L1278.43 453.34L1280.33 453.34L1280.33 456.44L1268.09 458.05L1266.19 458.05ZM1294.9 451.16L1307.15 449.54L1309.05 449.54L1309.05 452.64L1296.8 454.26L1294.9 454.26ZM1323.62 447.36L1335.87 445.75L1337.77 445.75L1337.77 448.85L1325.52 450.46L1323.62 450.46ZM1352.34 443.57L1364.59 441.95L1366.49 441.95L1366.49 445.05L1354.24 446.67L1352.34 446.67ZM1381.06 439.77L1393.31 438.16L1395.21 438.16L1395.21 441.26L1382.96 442.87L1381.06 442.87ZM1409.78 435.98L1422.03 434.36L1423.93 434.36L1423.93 437.46L1411.68 439.08L1409.78 439.08ZM1438.5 432.18L1450.75 430.57L1452.65 430.57L1452.65 433.67L1440.4 435.28L1438.5 435.28ZM1467.22 428.39L1479.47 426.77L1481.37 426.77L1481.37 429.87L1469.12 431.49L1467.22 431.49ZM1495.94 424.6L1508.19 422.98L1510.09 422.98L1510.09 426.08L1497.84 427.7L1495.94 427.7ZM1524.66 420.8L1536.91 419.18L1538.81 419.18L1538.81 422.28L1526.56 423.9L1524.66 423.9ZM1553.38 417.01L1565.63 415.39L1567.53 415.39L1567.53 418.49L1555.28 420.11L1553.38 420.11ZM1582.1 413.21L1594.35 411.59L1596.25 411.59L1596.25 414.69L1584 416.31L1582.1 416.31ZM1610.82 409.42L1623.07 407.8L1624.97 407.8L1624.97 410.9L1612.72 412.52L1610.82 412.52ZM1639.54 405.62L1651.79 404L1653.69 404L1653.69 407.1L1641.44 408.72L1639.54 408.72ZM1668.26 401.83L1680.5 400.21L1682.4 400.21L1682.4 403.31L1670.16 404.93L1668.26 404.93ZM1696.98 398.03L1709.22 396.41L1711.12 396.41L1711.12 399.51L1698.88 401.13L1696.98 401.13ZM1725.69 394.24L1737.94 392.62L1739.84 392.62L1739.84 395.72L1727.59 397.34L1725.69 397.34ZM1754.41 390.44L1766.66 388.82L1768.56 388.82L1768.56 391.92L1756.31 393.54L1754.41 393.54ZM1783.13 386.65L1795.38 385.03L1797.28 385.03L1797.28 388.13L1785.03 389.75L1783.13 389.75ZM1811.85 382.85L1824.1 381.23L1826 381.23L1826 384.33L1813.75 385.95L1811.85 385.95ZM1840.57 379.06L1852.82 377.44L1854.72 377.44L1854.72 380.54L1842.47 382.16L1840.57 382.16ZM1869.29 375.26L1881.54 373.64L1883.44 373.64L1883.44 376.74L1871.19 378.36L1869.29 378.36ZM1898.01 371.47L1910.26 369.85L1912.16 369.85L1912.16 372.95L1899.91 374.57L1898.01 374.57ZM1926.73 367.67L1938.98 366.05L1940.88 366.05L1940.88 369.15L1928.63 370.77L1926.73 370.77ZM1955.45 363.88L1967.7 362.26L1969.6 362.26L1969.6 365.36L1957.35 366.98L1955.45 366.98ZM1984.17 360.08L1996.42 358.46L1998.32 358.46L1998.32 361.56L1986.07 363.18L1984.17 363.18ZM2012.89 356.29L2025.14 354.67L2027.04 354.67L2027.04 357.77L2014.79 359.39L2012.89 359.39ZM2041.61 352.49L2053.86 350.87L2055.76 350.87L2055.76 353.97L2043.51 355.59L2041.61 355.59ZM2070.33 348.7L2082.58 347.08L2084.48 347.08L2084.48 350.18L2072.23 351.8L2070.33 351.8Z" fill="#ed7d31" stroke="#ed7d31" stroke-width="2.8" stroke-linejoin="round"/>
<ellipse cx="416.60" cy="891.40" rx="10.60" ry="15.50" fill="#ed7d31"/>
<ellipse cx="622.50" cy="411.00" rx="10.60" ry="15.50" fill="#ed7d31"/>
<ellipse cx="1038.40" cy="482.20" rx="10.60" ry="15.50" fill="#ed7d31"/>
<ellipse cx="2080.50" cy="345.50" rx="10.60" ry="15.50" fill="#ed7d31"/>
<line x1="418.30" y1="464.4" x2="2078.60" y2="464.4" stroke="#a5a5a5" stroke-width="12.75" stroke-linecap="round"/>
<rect x="42.00" y="1546.90" width="38.00" height="6.10" rx="1.60" fill="#0070c0"/>
<rect x="96.20" y="1546.90" width="15.90" height="6.10" rx="1.60" fill="#0070c0"/>
<circle cx="75.9" cy="1548.6" r="10.4" fill="#002060"/>
<rect x="688.10" y="1546.90" width="20.90" height="6.10" rx="1.60" fill="#00b050"/>
<rect x="722.00" y="1546.90" width="20.90" height="6.10" rx="1.00" fill="#00b050"/>
<path d="M711 1555.4L720 1537L724 1537L733 1555.4L733 1560L711 1560Z" fill="#00b050"/>
<rect x="1245.00" y="1544.00" width="20.90" height="6.00" rx="1.60" fill="#f4a42e"/>
<rect x="1280.00" y="1544.00" width="20.00" height="6.00" rx="1.60" fill="#f4a42e"/>
<path d="M1267.9 1544.25L1276.8 1535L1280.3 1535L1289.2 1544.25L1289.2 1547.75L1280.3 1557L1276.8 1557L1267.9 1547.75Z" fill="#f4a42e"/>
<rect x="1807.00" y="1539.50" width="86.75" height="6.50" fill="#bfbfbf"/>
<rect x="117.90" y="1540.00" width="1.20" height="21.00" fill="#000"/>
<rect x="761.90" y="1539.00" width="1.20" height="22.00" fill="#000"/>
<text><tspan x="145.28" y="1571.00" font-size="67.20" textLength="70.44" lengthAdjust="spacingAndGlyphs">Ed</tspan> <tspan x="231.29" y="1570.28" font-size="59.73" textLength="35.46" lengthAdjust="spacingAndGlyphs">=</tspan> <tspan x="285.56" y="1571.00" font-size="67.20" textLength="162.26" lengthAdjust="spacingAndGlyphs">17.68</tspan> <tspan x="462.78" y="1571.00" font-size="67.20" textLength="23.16" lengthAdjust="spacingAndGlyphs">J</tspan><tspan stroke="none" x="490.74" y="1579.78" font-size="84.22" textLength="21.76" lengthAdjust="spacingAndGlyphs">/</tspan><tspan x="513.47" y="1571.00" font-size="67.20" textLength="87.08" lengthAdjust="spacingAndGlyphs">cm</tspan><tspan x="601.74" y="1552.75" font-size="46.55" textLength="22.28" lengthAdjust="spacingAndGlyphs">2</tspan></text>
<text><tspan x="765.24" y="1571.00" font-size="67.20" textLength="71.00" lengthAdjust="spacingAndGlyphs">Ed</tspan> <tspan x="851.56" y="1570.28" font-size="59.73" textLength="35.16" lengthAdjust="spacingAndGlyphs">=</tspan> <tspan x="904.91" y="1571.00" font-size="67.20" textLength="126.61" lengthAdjust="spacingAndGlyphs">7.07</tspan> <tspan x="1046.56" y="1571.00" font-size="67.20" textLength="23.77" lengthAdjust="spacingAndGlyphs">J</tspan><tspan stroke="none" x="1074.62" y="1579.78" font-size="84.22" textLength="21.76" lengthAdjust="spacingAndGlyphs">/</tspan><tspan x="1097.22" y="1571.00" font-size="67.20" textLength="87.08" lengthAdjust="spacingAndGlyphs">cm</tspan><tspan x="1186.02" y="1552.75" font-size="46.55" textLength="22.95" lengthAdjust="spacingAndGlyphs">2</tspan></text>
<text><tspan x="1323.24" y="1571.00" font-size="67.20" textLength="71.00" lengthAdjust="spacingAndGlyphs">Ed</tspan> <tspan x="1410.04" y="1570.28" font-size="59.73" textLength="35.46" lengthAdjust="spacingAndGlyphs">=</tspan> <tspan x="1464.02" y="1571.00" font-size="67.20" textLength="125.47" lengthAdjust="spacingAndGlyphs">4.42</tspan> <tspan x="1605.78" y="1571.00" font-size="67.20" textLength="23.16" lengthAdjust="spacingAndGlyphs">J</tspan><tspan stroke="none" x="1634.12" y="1579.78" font-size="84.22" textLength="21.76" lengthAdjust="spacingAndGlyphs">/</tspan><tspan x="1657.25" y="1571.00" font-size="67.20" textLength="86.26" lengthAdjust="spacingAndGlyphs">cm</tspan><tspan x="1744.24" y="1552.75" font-size="46.55" textLength="22.28" lengthAdjust="spacingAndGlyphs">2</tspan></text>
<text><tspan x="1920.28" y="1571.00" font-size="67.20" textLength="122.30" lengthAdjust="spacingAndGlyphs">Non</tspan> <tspan x="2059.21" y="1571.00" font-size="67.20" textLength="248.98" lengthAdjust="spacingAndGlyphs">textured</tspan></text>
</svg>
</body>
</html>
